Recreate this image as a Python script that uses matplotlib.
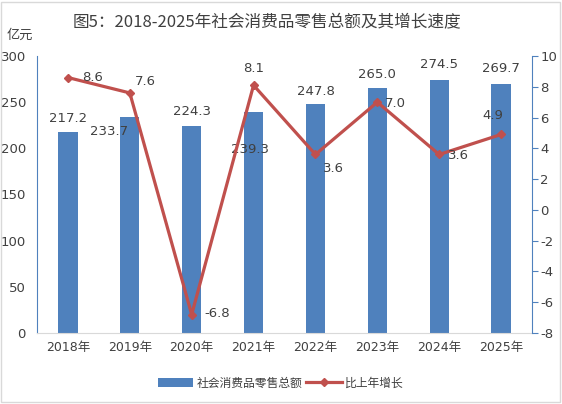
import numpy as np
import matplotlib.pyplot as plt
from matplotlib.patches import Rectangle

plt.rcParams['font.family'] = ['DejaVu Sans', 'Noto Sans CJK SC']
plt.rcParams['axes.unicode_minus'] = False

years = ["2018年", "2019年", "2020年", "2021年", "2022年", "2023年", "2024年", "2025年"]
sales = [217.2, 233.7, 224.3, 239.3, 247.8, 265.0, 274.5, 269.7]
growth = [8.6, 7.6, -6.8, 8.1, 3.6, 7.0, 3.6, 4.9]

# label offsets in pixels (dx, dy, ha)
salesOffsets = [(0, 14, "center"), (-21, -14, "center"), (0, 14, "center"), (-4, -37, "center"),
                (0, 13, "center"), (0, 14, "center"), (0, 15, "center"), (0, 15, "center")]
growthOffsets = [(14, 0, "left"), (5, 11, "left"), (13, 1, "left"), (0, 17, "center"),
                 (8, -14, "left"), (8, -1, "left"), (9, -1, "left"), (-8, 19, "center")]

barColor = "#4F81BD"
lineColor = "#C0504D"
textColor = "#404040"

fig = plt.figure(figsize=(5.62, 4.04), dpi=100)
ax = fig.add_axes([37 / 562, 1 - 333 / 404, (532 - 37) / 562, (333 - 56) / 404])
ax2 = ax.twinx()

x = np.arange(len(years))
bars = ax.bar(x, sales, width=0.31, color=barColor, label="社会消费品零售总额", zorder=2)
ax.set_ylim(0, 300)
ax.set_yticks(np.arange(0, 301, 50))
ax.set_xlim(-0.5, len(years) - 0.5)
ax.set_xticks(x)
ax.set_xticklabels(years)

ax2.plot(x, growth, color=lineColor, lw=2.3, marker="D", markersize=4.5, label="比上年增长", zorder=3)
ax2.set_ylim(-8, 10)
ax2.set_yticks(np.arange(-8, 11, 2))

for xi, v, (dx, dy, ha) in zip(x, sales, salesOffsets):
    ax.annotate(f"{v:.1f}", (xi, v), xytext=(dx * 0.72, dy * 0.72), textcoords="offset points",
                ha=ha, va="center", fontsize=9.5, color=textColor)
for xi, v, (dx, dy, ha) in zip(x, growth, growthOffsets):
    ax2.annotate(f"{v:.1f}", (xi, v), xytext=(dx * 0.72, dy * 0.72), textcoords="offset points",
                 ha=ha, va="center", fontsize=9.5, color=textColor)

for a in (ax, ax2):
    for s in a.spines.values():
        s.set_visible(False)
ax.spines["left"].set_visible(True)
ax.spines["left"].set_color(barColor)
ax.spines["bottom"].set_visible(True)
ax.spines["bottom"].set_color("#D9D9D9")
ax2.spines["right"].set_visible(True)
ax2.spines["right"].set_color(barColor)

ax.tick_params(axis="y", length=0, pad=8, labelsize=9.5, labelcolor=textColor)
ax.tick_params(axis="x", length=0, pad=6, labelsize=9, labelcolor=textColor)
ax2.tick_params(axis="y", length=4, color=barColor, pad=2, labelsize=9.5, labelcolor=textColor)

fig.text(267 / 562, 1 - 23 / 404, "图5：2018-2025年社会消费品零售总额及其增长速度",
         ha="center", va="center", fontsize=12, color=textColor, family=["Noto Sans CJK SC"])
fig.text(7 / 562, 1 - 35 / 404, "亿元", ha="left", va="center", fontsize=9.5, color=textColor,
         family=["Noto Sans CJK SC"])

h1, l1 = ax.get_legend_handles_labels()
h2, l2 = ax2.get_legend_handles_labels()
fig.legend(h1 + h2, l1 + l2, loc="center", bbox_to_anchor=(0.5, 1 - 383 / 404), ncol=2,
           frameon=False, labelcolor=textColor, handlelength=3, columnspacing=0.3,
           handletextpad=0.3, prop={"family": ["Noto Sans CJK SC"], "size": 8.5})

fig.patches.append(Rectangle((0.002, 0.004), 0.994, 0.992, transform=fig.transFigure,
                             fill=False, edgecolor="#D9D9D9", lw=1))

fig.savefig("out.png", dpi=100)
